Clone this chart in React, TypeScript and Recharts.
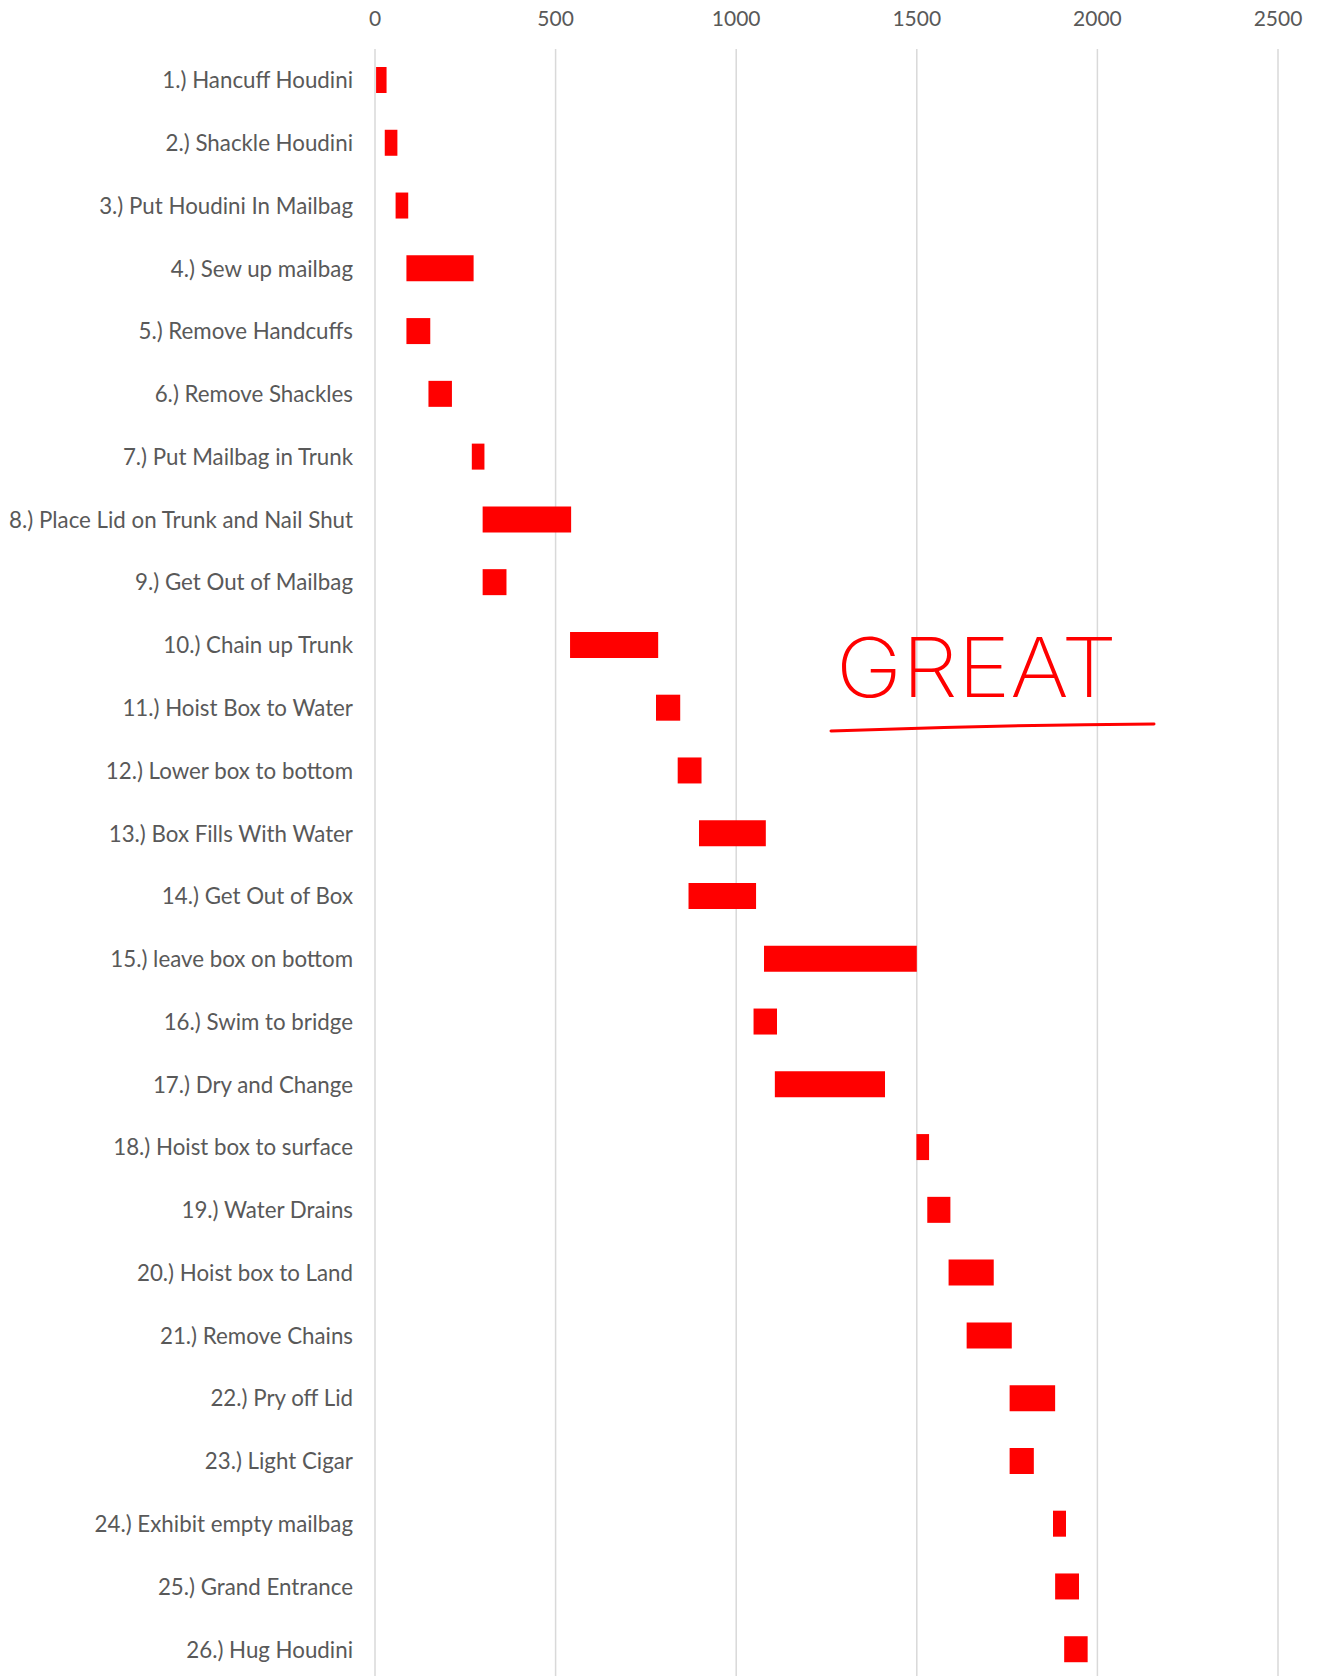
import React from 'react';
import { BarChart, Bar, XAxis, YAxis, CartesianGrid } from 'recharts';

const categories = [
  '1.) Hancuff Houdini',
  '2.) Shackle Houdini',
  '3.) Put Houdini In Mailbag',
  '4.) Sew up mailbag',
  '5.) Remove Handcuffs',
  '6.) Remove Shackles',
  '7.) Put Mailbag in Trunk',
  '8.) Place Lid on Trunk and Nail Shut',
  '9.) Get Out of Mailbag',
  '10.) Chain up Trunk',
  '11.) Hoist Box to Water',
  '12.) Lower box to bottom',
  '13.) Box Fills With Water',
  '14.) Get Out of Box',
  '15.) leave box on bottom',
  '16.) Swim to bridge',
  '17.) Dry and Change',
  '18.) Hoist box to surface',
  '19.) Water Drains',
  '20.) Hoist box to Land',
  '21.) Remove Chains',
  '22.) Pry off Lid',
  '23.) Light Cigar',
  '24.) Exhibit empty mailbag',
  '25.) Grand Entrance',
  '26.) Hug Houdini',
];

const startValues = [3, 27, 57, 87, 87, 148, 268, 298, 298, 540, 778, 838, 897, 868, 1077, 1048, 1107, 1499, 1529, 1588, 1638, 1757, 1757, 1877, 1883, 1908];
const endValues = [32, 62, 92, 273, 153, 213, 303, 543, 364, 784, 845, 904, 1082, 1055, 1500, 1113, 1412, 1534, 1593, 1713, 1763, 1883, 1824, 1913, 1949, 1973];

const xTicks = [0, 500, 1000, 1500, 2000, 2500];
const annotationText = 'GREAT';

const data = categories.map((name, i) => ({ name, range: [startValues[i], endValues[i]] }));

const FONT = 'Lato, "Open Sans", sans-serif';

export default function App() {
  return (
    <div style={{ position: 'absolute', left: 0, top: 0, width: 1318, height: 1676, overflow: 'hidden', background: '#ffffff' }}>
      <BarChart
        width={1318}
        height={1681}
        data={data}
        layout="vertical"
        margin={{ top: 19, right: 40, bottom: 0, left: 0 }}
        barSize={26}
      >
        <CartesianGrid horizontal={false} stroke="#d9d9d9" strokeWidth={1.5} />
        <XAxis
          type="number"
          orientation="top"
          domain={[0, 2500]}
          ticks={xTicks}
          interval={0}
          axisLine={false}
          tickLine={false}
          height={30}
          tickMargin={17}
          tick={{ fill: '#595959', fontSize: 21, fontFamily: FONT }}
        />
        <YAxis
          type="category"
          dataKey="name"
          width={375}
          interval={0}
          axisLine={false}
          tickLine={false}
          tickMargin={16}
          tick={{ fill: '#595959', fontSize: 22.3, fontFamily: FONT }}
        />
        <Bar dataKey="range" fill="#ff0000" isAnimationActive={false} />
      </BarChart>
      <svg width={1318} height={1676} style={{ position: 'absolute', left: 0, top: 0, pointerEvents: 'none' }}>
        <text
          x={836}
          y={697}
          fontSize={82}
          fontFamily="Inter, sans-serif"
          fontWeight={200}
          fill="#ff0000"
          textLength={281}
          lengthAdjust="spacingAndGlyphs"
        >
          {annotationText}
        </text>
        <path d="M831,731 Q990,725 1154,724" stroke="#ff0000" strokeWidth={3} fill="none" strokeLinecap="round" />
      </svg>
    </div>
  );
}
